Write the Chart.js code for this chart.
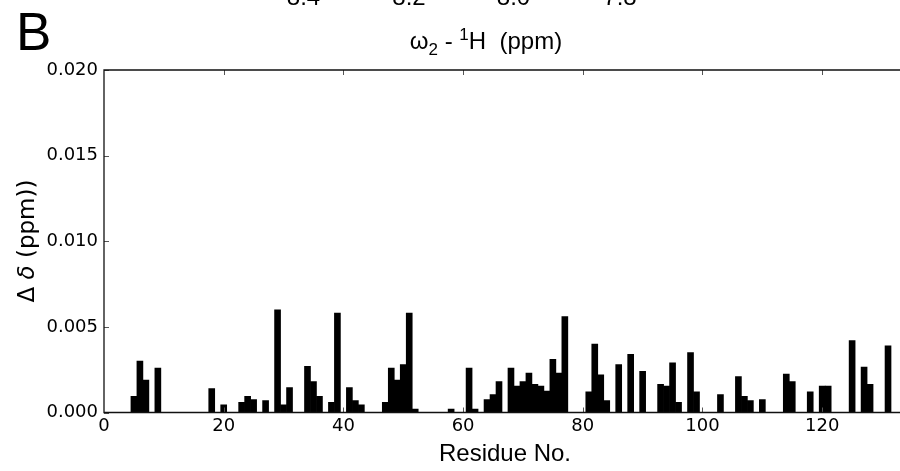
<!DOCTYPE html>
<html>
<head>
<meta charset="utf-8">
<script src="https://cdn.jsdelivr.net/npm/chart.js@4.4.1/dist/chart.umd.min.js"></script>
<style>
html,body{margin:0;padding:0;background:#fff;overflow:hidden;}
#wrap{position:relative;width:900px;height:471px;}
canvas{display:block;}
</style>
</head>
<body>
<div id="wrap"><canvas id="c" width="900" height="471"></canvas></div>
<script>
// Residue numbers and chemical shift perturbations (ppm)
const residues = [5,6,7,9,18,20,23,24,25,27,29,30,31,34,35,36,38,39,41,42,43,47,48,49,50,51,52,58,61,62,64,65,66,68,69,70,71,72,73,74,75,76,77,81,82,83,84,86,88,90,93,94,95,96,98,99,103,106,107,108,110,114,115,118,120,121,125,127,128,131];
const shifts = [0.00095,0.0030,0.0019,0.0026,0.0014,0.00045,0.0006,0.00095,0.00075,0.0007,0.0060,0.00045,0.00145,0.0027,0.0018,0.00095,0.0006,0.0058,0.00145,0.0007,0.00045,0.0006,0.0026,0.0019,0.0028,0.0058,0.0002,0.0002,0.0026,0.0002,0.00075,0.00105,0.0018,0.0026,0.00155,0.0018,0.0023,0.00165,0.00155,0.00125,0.0031,0.0023,0.0056,0.0012,0.0040,0.0022,0.0007,0.0028,0.0034,0.0024,0.00165,0.00155,0.0029,0.0006,0.0035,0.0012,0.00105,0.0021,0.00095,0.0007,0.00075,0.00225,0.0018,0.0012,0.00155,0.00155,0.0042,0.00265,0.00165,0.0039];
const xTickValues = [0,20,40,60,80,100,120];
const yTickValues = [0.000,0.005,0.010,0.015,0.020];
const topScaleLabels = ["8.4","8.2","8.0","7.8"];

const points = residues.map((r,i)=>({x:r,y:shifts[i]}));

const decor = {
  id:'decor',
  afterDraw(chart){
    const ctx = chart.ctx, a = chart.chartArea;
    const xs = chart.scales.x, ys = chart.scales.y;
    ctx.save();
    // inward tick marks
    ctx.strokeStyle = '#555';
    ctx.lineWidth = 1;
    xTickValues.forEach(v=>{
      if(v===0) return;
      const px = Math.round(xs.getPixelForValue(v))+0.5;
      ctx.beginPath(); ctx.moveTo(px,a.bottom); ctx.lineTo(px,a.bottom-5); ctx.stroke();
      ctx.beginPath(); ctx.moveTo(px,a.top); ctx.lineTo(px,a.top+5); ctx.stroke();
    });
    yTickValues.forEach(v=>{
      const py = Math.round(ys.getPixelForValue(v))+0.5;
      ctx.beginPath(); ctx.moveTo(a.left,py); ctx.lineTo(a.left+5,py); ctx.stroke();
    });
    // frame
    ctx.strokeStyle = '#111';
    ctx.lineWidth = 1.3;
    ctx.beginPath();
    ctx.moveTo(a.right+2,a.top); ctx.lineTo(a.left,a.top); ctx.lineTo(a.left,a.bottom); ctx.lineTo(a.right+2,a.bottom);
    ctx.stroke();

    ctx.fillStyle = '#000';
    // panel letter
    ctx.font = '53px "Liberation Sans", Arial, sans-serif';
    ctx.textAlign = 'left'; ctx.textBaseline = 'alphabetic';
    ctx.fillText('B', 16, 50);
    // cut-off labels of the spectrum axis above
    ctx.font = '24px "Liberation Sans", Arial, sans-serif';
    ctx.textAlign = 'center';
    const topX = [303.5, 409, 513.5, 620];
    topScaleLabels.forEach((t,i)=>ctx.fillText(t, topX[i], 5));
    // title: ω2 - 1H  (ppm)
    const big = '24px "Liberation Sans", Arial, sans-serif';
    const small = '17px "Liberation Sans", Arial, sans-serif';
    const parts = [
      {t:'\u03C9', f:big, dy:0},
      {t:'2', f:small, dy:6},
      {t:' - ', f:big, dy:0},
      {t:'1', f:small, dy:-9},
      {t:'H  (ppm)', f:big, dy:0}
    ];
    ctx.textAlign = 'left';
    let w = 0;
    parts.forEach(p=>{ctx.font=p.f; p.w=ctx.measureText(p.t).width; w+=p.w;});
    let x = 486 - w/2;
    parts.forEach(p=>{ctx.font=p.f; ctx.fillText(p.t, x, 49+p.dy); x+=p.w;});
    // x axis title
    ctx.font = big;
    ctx.textAlign = 'center';
    ctx.fillText('Residue No.', 505, 461);
    // y axis title: Δ δ (ppm))
    ctx.translate(34, 241);
    ctx.rotate(-Math.PI/2);
    const yparts = [
      {t:'\u0394 ', f:'23px "DejaVu Sans", sans-serif'},
      {t:'\u03B4', f:'italic 23px "DejaVu Sans", sans-serif'},
      {t:' (ppm))', f:'23px "DejaVu Sans", sans-serif'}
    ];
    ctx.textAlign = 'left';
    w = 0;
    yparts.forEach(p=>{ctx.font=p.f; p.w=ctx.measureText(p.t).width; w+=p.w;});
    x = -w/2;
    yparts.forEach(p=>{ctx.font=p.f; ctx.fillText(p.t, x, 0); x+=p.w;});
    ctx.restore();
  }
};

new Chart(document.getElementById('c'), {
  type:'bar',
  data:{datasets:[{data:points, backgroundColor:'#000', borderWidth:0, barPercentage:1.0, categoryPercentage:1.0, grouped:false}]},
  options:{
    responsive:false, animation:false,
    layout:{padding:{top:70,left:0,right:0,bottom:0}},
    plugins:{legend:{display:false}, tooltip:{enabled:false}},
    scales:{
      x:{type:'linear', min:0, max:133, offset:false,
         grid:{display:false, drawTicks:false}, border:{display:false},
         afterBuildTicks(s){ s.ticks = xTickValues.map(v=>({value:v})); },
         afterFit(s){ s.height = 58.5; },
         ticks:{padding:3, color:'#000', font:{family:'"DejaVu Sans"', size:18}, maxRotation:0, autoSkip:false, callback:v=>String(v)}
      },
      y:{min:0, max:0.02,
         grid:{display:false, drawTicks:false}, border:{display:false},
         afterBuildTicks(s){ s.ticks = yTickValues.map(v=>({value:v})); },
         afterFit(s){ s.width = 104; },
         ticks:{padding:6, color:'#000', font:{family:'"DejaVu Sans"', size:18}, callback:v=>v.toFixed(3)}
      }
    }
  },
  plugins:[decor]
});
</script>
</body>
</html>
